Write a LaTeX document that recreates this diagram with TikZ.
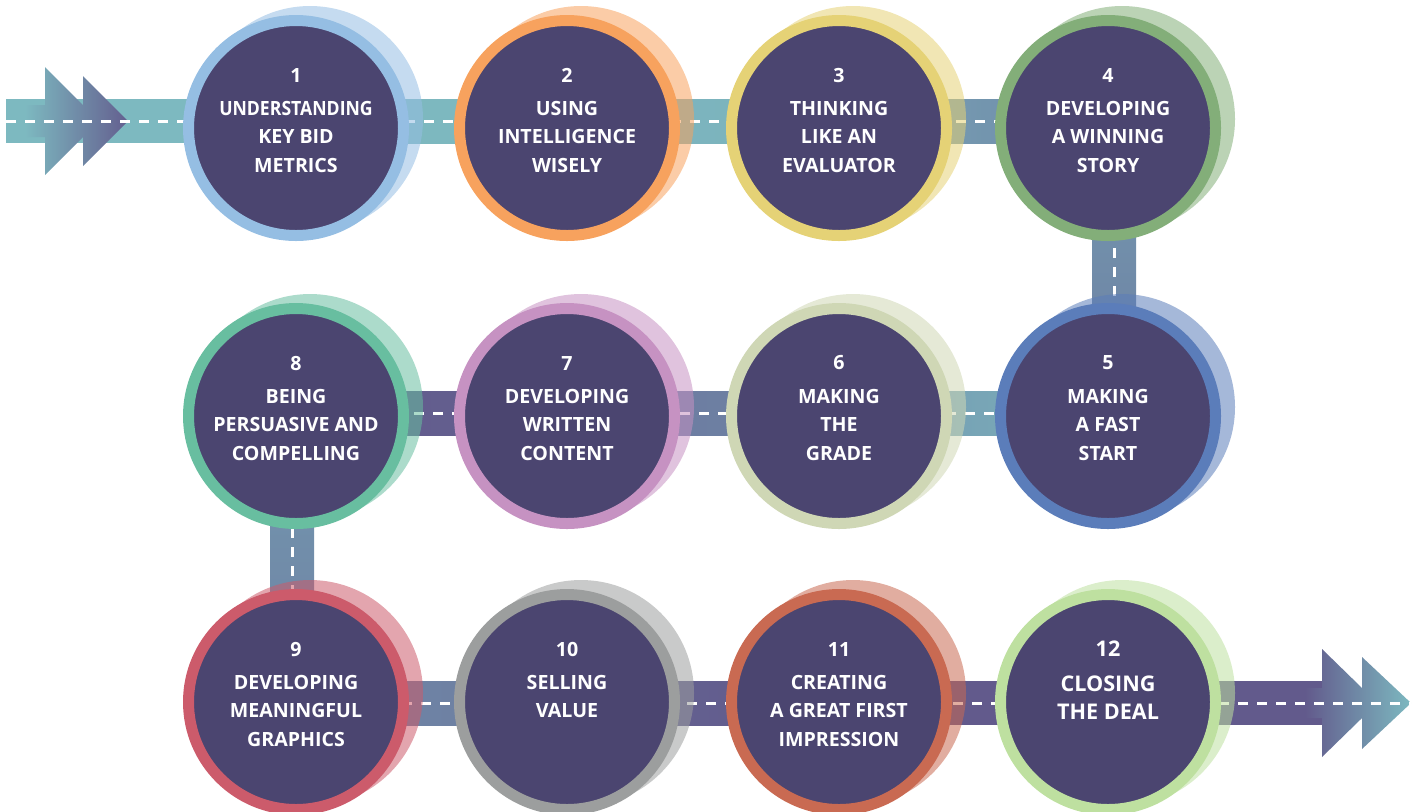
\documentclass[tikz,border=0pt]{standalone}
\usepackage{fontspec}
\setmainfont{Open Sans}
\usepackage{tikz}
\usetikzlibrary{positioning}

\pgfdeclarelayer{back}
\pgfsetlayers{back,main}

\definecolor{disc}{HTML}{4B4570}
\definecolor{roadteal}{HTML}{7DB9C0}
\definecolor{roadslate}{HTML}{7089A8}
\definecolor{roadplum}{HTML}{625A8C}
\definecolor{ringA}{HTML}{95BEE3}
\definecolor{ringB}{HTML}{F7A25E}
\definecolor{ringC}{HTML}{E5D276}
\definecolor{ringD}{HTML}{83AE79}
\definecolor{ringE}{HTML}{5B7DBA}
\definecolor{ringF}{HTML}{CFD7B5}
\definecolor{ringG}{HTML}{C692C2}
\definecolor{ringH}{HTML}{68BEA0}
\definecolor{ringI}{HTML}{CC5B6B}
\definecolor{ringJ}{HTML}{9C9E9E}
\definecolor{ringK}{HTML}{C96A52}
\definecolor{ringL}{HTML}{BEE0A0}

\tikzset{
    step disc/.style={
        circle,
        fill=disc,
        draw=#1,
        line width=5.5pt,
        minimum size=107.5pt,
        inner sep=0pt
    },
    step halo/.style={
        circle,
        fill=#1,
        fill opacity=0.55,
        minimum size=113pt,
        inner sep=0pt
    },
    step num/.style={
        text=white,
        inner sep=0pt
    },
    step title/.style={
        text=white,
        align=center,
        inner sep=0pt
    },
    lane/.style={
        white,
        line width=1.5pt,
        dash pattern=on 5pt off 4.5pt
    }
}

\begin{document}
\begin{tikzpicture}[x=0.5pt,y=-0.5pt]
    \useasboundingbox (0,0) rectangle (1416,811);
    % the twelve stops
    \foreach \i/\x/\y/\clr/\fs/\txt in {
        1/296/128/ringA/9.8/{\scalebox{0.9}[1]{UNDERSTANDING}\\KEY BID\\METRICS},
        2/567/128/ringB/9.8/{USING\\INTELLIGENCE\\WISELY},
        3/839/128/ringC/9.8/{THINKING\\LIKE AN\\EVALUATOR},
        4/1108/128/ringD/9.8/{DEVELOPING\\A WINNING\\STORY},
        5/1108/416/ringE/9.8/{MAKING\\A FAST\\START},
        6/839/416/ringF/9.8/{MAKING\\THE\\GRADE},
        7/567/416/ringG/9.8/{DEVELOPING\\WRITTEN\\CONTENT},
        8/296/416/ringH/9.8/{BEING\\PERSUASIVE AND\\COMPELLING},
        9/296/702/ringI/9.8/{DEVELOPING\\MEANINGFUL\\GRAPHICS},
        10/567/702/ringJ/9.8/{SELLING\\VALUE},
        11/839/702/ringK/9.8/{CREATING\\A GREAT FIRST\\IMPRESSION},
        12/1108/702/ringL/10.8/{CLOSING\\THE DEAL}}
    {
        \node[step halo=\clr] (h\i) at ([shift={(14,-9)}]\x,\y) {};
        \node[step disc=\clr] (s\i) at (\x,\y) {};
        \node[step num, font=\fontsize{\fs}{14.3}\selectfont\bfseries] (n\i) at ([yshift=26.5pt]s\i.center) {\i};
        \node[step title, font=\fontsize{\fs}{14.3}\selectfont\bfseries, below=9pt of n\i] (t\i) {\txt};
    }

    \begin{pgfonlayer}{back}
        \coordinate (start) at (6,121);
        \coordinate (exit) at (1330,703);
        \coordinate (finish) at (1411,703);
        % top row
        \fill[roadteal] ([yshift=11pt]start) rectangle ([yshift=-7.5pt]s1.center);
        \shade[left color=roadteal, right color=roadteal!95!roadslate] ([yshift=14.5pt]s1.center) rectangle ([yshift=-7.5pt]s2.center);
        \shade[left color=roadteal!95!roadslate, right color=roadteal!85!roadslate] ([yshift=14.5pt]s2.center) rectangle ([yshift=-7.5pt]s3.center);
        \shade[left color=roadteal!55!roadslate, right color=roadslate] ([yshift=14.5pt]s3.center) rectangle ([yshift=-7.5pt]s4.center);
        % down to the middle row
        \shade[top color=roadteal!35!roadslate, bottom color=roadslate!75!roadplum] ([xshift=-8pt]s4.center) rectangle ([xshift=14pt]s5.center);
        % middle row, right to left
        \shade[left color=roadteal!40!roadslate, right color=roadteal!75!roadslate] ([yshift=12.5pt]s6.center) rectangle ([yshift=-9.5pt]s5.center);
        \shade[left color=roadslate!70!roadplum, right color=roadslate!85!roadplum] ([yshift=12.5pt]s7.center) rectangle ([yshift=-9.5pt]s6.center);
        \shade[left color=roadplum, right color=roadplum!85!roadslate] ([yshift=12.5pt]s8.center) rectangle ([yshift=-9.5pt]s7.center);
        % down to the bottom row
        \shade[top color=roadteal!30!roadslate, bottom color=roadslate!85!roadplum] ([xshift=-13pt]s8.center) rectangle ([xshift=9pt]s9.center);
        % bottom row
        \shade[left color=roadslate, right color=roadslate!70!roadplum] ([yshift=10.5pt]s9.center) rectangle ([yshift=-11.5pt]s10.center);
        \shade[left color=roadplum!80!roadslate, right color=roadplum] ([yshift=10.5pt]s10.center) rectangle ([yshift=-11.5pt]s11.center);
        \fill[roadplum] ([yshift=10.5pt]s11.center) rectangle ([yshift=-11.5pt]s12.center);
        \fill[roadplum] ([yshift=10.5pt]s12.center) rectangle ([yshift=-11pt]exit);
        % double arrows at both ends
        \shade[left color=roadteal, right color=roadplum!90!roadslate]
            (25,105) -- (45,105) -- (45,67) -- (83,105) -- (83,76) -- (128,121)
            -- (83,166) -- (83,137) -- (45,175) -- (45,137) -- (25,137) -- cycle;
        \shade[left color=roadplum, right color=roadteal]
            (1305,688) -- (1322,688) -- (1322,649) -- (1362,688) -- (1362,657) -- (1411,703)
            -- (1362,749) -- (1362,718) -- (1322,757) -- (1322,718) -- (1305,718) -- cycle;
        % lane marking
        \draw[lane] (start) -- ([yshift=3.5pt]s1.center) -- ([xshift=3pt,yshift=3.5pt]s4.center)
            -- ([xshift=3pt,yshift=1.5pt]s5.center) -- ([xshift=-2pt,yshift=1.5pt]s8.center)
            -- ([xshift=-2pt,yshift=-0.5pt]s9.center) -- (finish);
    \end{pgfonlayer}
\end{tikzpicture}
\end{document}
